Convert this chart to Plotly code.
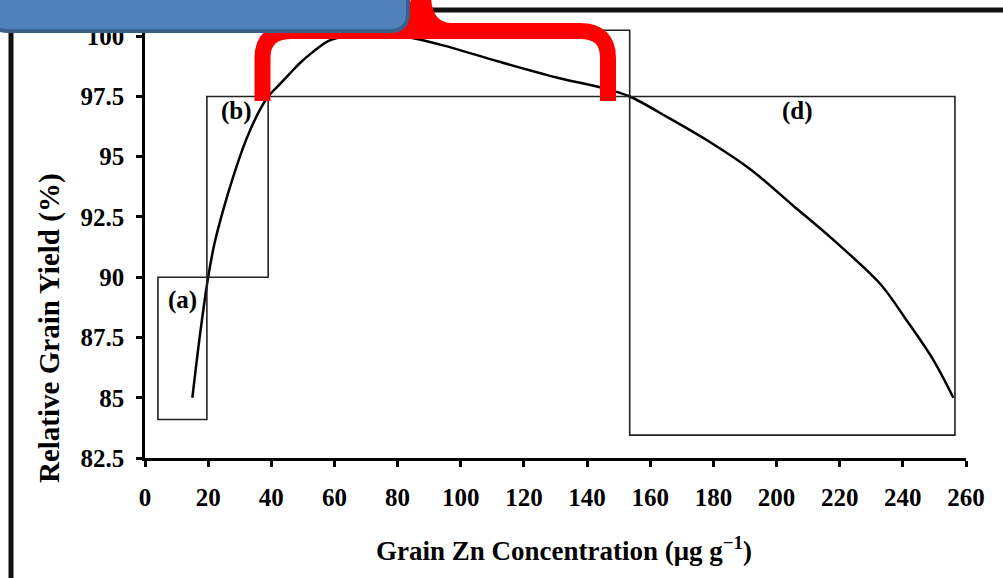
import plotly.graph_objects as go

# ---- data ----
zn = [15, 17.5, 20, 22, 25, 28, 32, 36, 39, 43, 46, 49, 53, 58, 64, 70, 77, 85, 95, 112,
      130, 145, 153.5, 166, 179, 192, 205, 218, 233, 241, 249.5, 256]
yield_pct = [85.0, 87.7, 90.0, 91.4, 92.9, 94.2, 95.7, 96.85, 97.5, 98.05, 98.47, 98.88,
             99.33, 99.8, 100.02, 100.08, 100.04, 99.92, 99.6, 98.95, 98.3, 97.85, 97.5,
             96.6, 95.6, 94.45, 93.0, 91.55, 89.7, 88.25, 86.6, 85.0]

x_ticks = [0, 20, 40, 60, 80, 100, 120, 140, 160, 180, 200, 220, 240, 260]
y_ticks = [82.5, 85, 87.5, 90, 92.5, 95, 97.5, 100]
y_tick_text = ["82.5", "85", "87.5", "90", "92.5", "95", "97.5", "100"]

# zone boxes: (x0, x1, y0, y1, label, label_x, label_y)
zones = [
    (4.1, 19.6, 84.1, 90.0, "(a)", 12.0, 89.05),
    (19.6, 39.0, 90.0, 97.5, "(b)", 29.1, 96.9),
    (39.0, 153.5, 97.5, 100.25, "", None, None),
    (153.5, 256.5, 83.45, 97.5, "(d)", 206.5, 96.9),
]

W, H = 1003, 578
ML, MR, MT, MB = 145, 37, 29, 120
PW, PH = W - ML - MR, H - MT - MB


def px(x):
    return (x - ML) / PW


def py(y):
    return (H - MB - y) / PH


FONT = "Liberation Serif, Times New Roman, serif"

fig = go.Figure()
fig.add_trace(go.Scatter(x=zn, y=yield_pct, mode="lines",
                         line=dict(color="black", width=2.5, shape="spline", smoothing=0.9),
                         showlegend=False, hoverinfo="skip"))

shapes = []
annotations = []
for x0, x1, y0, y1, lab, lx, ly in zones:
    shapes.append(dict(type="rect", xref="x", yref="y", x0=x0, x1=x1, y0=y0, y1=y1,
                       line=dict(color="#222", width=1.6), fillcolor="rgba(0,0,0,0)"))
    if lab:
        annotations.append(dict(x=lx, y=ly, xref="x", yref="y", text=lab, showarrow=False,
                                xanchor="center", yanchor="middle",
                                font=dict(family=FONT, size=25, color="black", weight="bold")))

# outer slide frame
shapes.append(dict(type="line", xref="paper", yref="paper", x0=px(0), x1=px(W), y0=py(10), y1=py(10),
                   line=dict(color="#111", width=5)))
shapes.append(dict(type="line", xref="paper", yref="paper", x0=px(11), x1=px(11), y0=py(0), y1=py(H),
                   line=dict(color="#111", width=5)))


def path(points_cmds):
    out = []
    for c in points_cmds:
        if isinstance(c, str):
            out.append(c)
        else:
            out.append(f"{px(c[0]):.5f},{py(c[1]):.5f}")
    return " ".join(out)


# red bracket
red = path(["M", (262.5, 101), "L", (262.5, 58), "Q", (262.5, 31), (292, 31), "L", (580, 31),
            "Q", (608, 31), (608, 58), "L", (608, 101)])
shapes.append(dict(type="path", xref="paper", yref="paper", path=red,
                   line=dict(color="#FF0000", width=16)))
spike = path(["M", (390, 23), "Q", (408, 23), (411, -3), "L", (431, -3), "Q", (432, 23), (452, 23),
              "L", (452, 39), "L", (430, 39), "Q", (421, 39), (418, 33), "Q", (415, 39), (406, 39),
              "L", (390, 39), "Z"])
shapes.append(dict(type="path", xref="paper", yref="paper", path=spike,
                   fillcolor="#FF0000", line=dict(color="#FF0000", width=0)))

# blue callout box (rounded)
r = 18
bx0, bx1, by0, by1 = -10, 408, -30, 31
blue = path(["M", (bx0, by0), "L", (bx1 - r, by0), "Q", (bx1, by0), (bx1, by0 + r),
             "L", (bx1, by1 - r), "Q", (bx1, by1), (bx1 - r, by1),
             "L", (bx0 + r, by1), "Q", (bx0, by1), (bx0, by1 - r), "Z"])
shapes.append(dict(type="path", xref="paper", yref="paper", path=blue,
                   fillcolor="#4F81BD", line=dict(color="#3A5F8B", width=4)))

annotations.append(dict(x=px(564), y=py(549), xref="paper", yref="paper",
                        xanchor="center", yanchor="middle",
                        text="Grain Zn Concentration (μg g<sup>−1</sup>)", showarrow=False,
                        font=dict(family=FONT, size=27, color="black", weight="bold")))
annotations.append(dict(x=px(49), y=py(328), xref="paper", yref="paper",
                        xanchor="center", yanchor="middle",
                        text="Relative Grain Yield (%)", showarrow=False, textangle=-90,
                        font=dict(family=FONT, size=29, color="black", weight="bold")))

fig.update_layout(
    width=W, height=H,
    margin=dict(l=ML, r=MR, t=MT, b=MB),
    paper_bgcolor="white", plot_bgcolor="white",
    shapes=shapes, annotations=annotations,
    xaxis=dict(range=[0, 260], tickvals=x_ticks, showgrid=False, zeroline=False,
               showline=True, linecolor="black", linewidth=2.5,
               ticks="outside", ticklen=6, tickwidth=2.5, tickcolor="black",
               ticklabelstandoff=9,
               tickfont=dict(family=FONT, size=25, color="black", weight="bold")),
    yaxis=dict(range=[82.5, 100.3], tickvals=y_ticks, ticktext=y_tick_text, showgrid=False,
               zeroline=False, showline=True, linecolor="black", linewidth=2.5,
               ticks="outside", ticklen=6, tickwidth=2.5, tickcolor="black",
               ticklabelstandoff=7,
               tickfont=dict(family=FONT, size=25, color="black", weight="bold")),
)

fig.write_html("out.html")
